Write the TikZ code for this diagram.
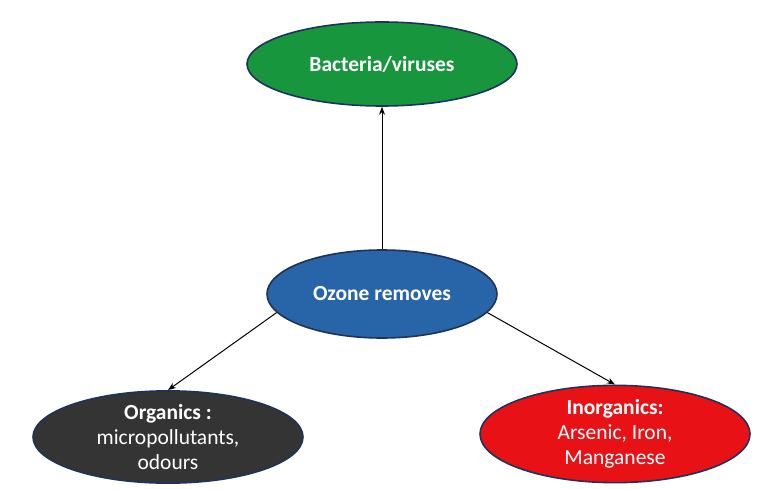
\documentclass[tikz,border=0pt]{standalone}
\usepackage{fontspec}
\setmainfont{Carlito}
\usetikzlibrary{shapes.geometric,arrows.meta}
\definecolor{bactgreen}{RGB}{24,150,62}
\definecolor{ozoneblue}{RGB}{40,100,168}
\definecolor{orggray}{RGB}{52,52,52}
\definecolor{inorgred}{RGB}{232,18,22}
\definecolor{rimblue}{RGB}{30,50,90}
\tikzset{
  blob/.style={ellipse, draw=rimblue, line width=1.6pt, text=white, align=center,
    font=\fontsize{21.5}{25}\selectfont, inner sep=0pt},
  link/.style={-{Stealth[length=8pt,width=6pt]}, line width=1pt, black}
}
\begin{document}
\begin{tikzpicture}[x=1pt,y=-1pt]
\useasboundingbox (0,0) rectangle (770,489);
% Draw the four ellipses
\node[blob, fill=bactgreen, minimum width=270pt, minimum height=84pt] (bact) at (382,64) {\bfseries Bacteria/viruses};
\node[blob, fill=ozoneblue, minimum width=230pt, minimum height=88pt] (ozone) at (382,294) {\bfseries Ozone removes};
\node[blob, fill=orggray, minimum width=270pt, minimum height=80pt] (org) at (168,437) {\textbf{Organics :}\\micropollutants,\\odours};
\node[blob, fill=inorgred, minimum width=270pt, minimum height=82pt] (inorg) at (615,434) {\textbf{Inorganics:}\\Arsenic, Iron,\\Manganese};
% Draw arrows from the centre ellipse
\draw[link] (ozone.north) -- (bact.south);
\draw[link] (ozone.190) -- (org.north);
\draw[link] (ozone.350) -- (inorg.north);
\end{tikzpicture}
\end{document}
